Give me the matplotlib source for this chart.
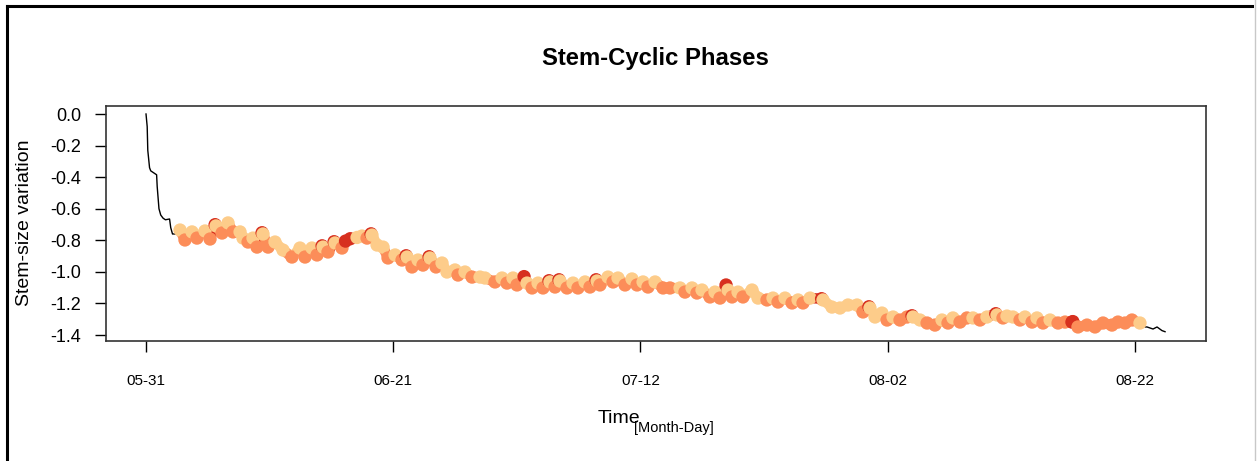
import matplotlib
matplotlib.use('Agg')
import matplotlib.pyplot as plt
from matplotlib.lines import Line2D
from matplotlib.collections import LineCollection

plt.rcParams['font.family'] = ['Liberation Sans', 'DejaVu Sans']
plt.rcParams['axes.unicode_minus'] = False

# ---- data (time in days since 05-31, stem-size variation) ----
start_days = [0.00, 0.10, 0.15, 0.30, 0.40, 0.60, 0.90, 0.95, 1.10, 1.25,
              1.45, 1.65, 2.00, 2.10, 2.25, 2.65]
start_vals = [0.000, -0.080, -0.230, -0.340, -0.360, -0.370, -0.385, -0.460,
              -0.600, -0.640, -0.660, -0.670, -0.665, -0.720, -0.760, -0.760]

phase_days = [2.89, 3.31, 3.91, 4.33, 5.01, 5.44, 5.87, 5.95, 6.46, 6.97,
              7.39, 7.99, 8.24, 8.67, 9.09, 9.43, 9.86, 9.94, 10.37, 10.96,
              11.64, 12.40, 13.08, 13.51, 14.10, 14.53, 14.96, 15.04, 15.46, 15.98,
              16.06, 16.65, 16.95, 17.35, 17.93, 18.35, 18.78, 19.12, 19.20, 19.63,
              20.14, 20.56, 21.16, 21.75, 22.10, 22.18, 22.60, 23.11, 23.53, 24.05,
              24.13, 24.64, 25.15, 25.57, 26.25, 26.51, 27.10, 27.70, 28.38, 28.80,
              29.65, 30.25, 30.67, 31.18, 31.52, 32.12, 32.37, 32.80, 33.31, 33.73,
              34.24, 34.32, 34.75, 35.09, 35.17, 35.77, 36.28, 36.70, 37.30, 37.72,
              38.24, 38.32, 38.57, 39.25, 39.68, 40.10, 40.70, 41.29, 41.72, 42.23,
              42.65, 43.25, 43.93, 44.52, 45.37, 45.79, 46.39, 46.81, 47.24, 47.92,
              48.34, 48.77, 49.28, 49.45, 49.79, 50.30, 50.72, 51.49, 52.00, 52.76,
              53.27, 53.70, 54.29, 54.89, 55.40, 55.82, 56.42, 57.40, 57.52, 58.28,
              58.96, 59.64, 60.41, 60.92, 61.42, 61.51, 61.94, 62.53, 62.96, 63.47,
              64.06, 64.66, 65.08, 65.17, 65.76, 66.36, 67.03, 67.63, 68.14, 68.56,
              69.16, 69.75, 70.26, 70.86, 71.45, 72.20, 72.30, 72.81, 73.15, 73.66,
              74.26, 74.68, 75.28, 75.70, 76.21, 76.81, 77.49, 78.08, 78.67, 78.75,
              79.18, 79.95, 80.63, 81.31, 82.07, 82.58, 83.18, 83.77, 84.45]
phase_vals = [-0.735, -0.798, -0.747, -0.786, -0.741, -0.792, -0.701, -0.709, -0.754, -0.690,
              -0.747, -0.747, -0.786, -0.811, -0.786, -0.843, -0.752, -0.760, -0.843, -0.811,
              -0.862, -0.906, -0.849, -0.906, -0.849, -0.893, -0.835, -0.843, -0.874, -0.809,
              -0.817, -0.849, -0.805, -0.790, -0.782, -0.773, -0.786, -0.759, -0.767, -0.830,
              -0.843, -0.912, -0.893, -0.925, -0.898, -0.906, -0.969, -0.925, -0.957, -0.904,
              -0.912, -0.969, -0.944, -1.001, -0.988, -1.020, -1.001, -1.033, -1.033, -1.039,
              -1.064, -1.039, -1.071, -1.039, -1.083, -1.030, -1.071, -1.102, -1.071, -1.102,
              -1.056, -1.064, -1.096, -1.050, -1.058, -1.102, -1.071, -1.102, -1.064, -1.096,
              -1.050, -1.058, -1.083, -1.033, -1.064, -1.039, -1.083, -1.045, -1.083, -1.064,
              -1.096, -1.064, -1.102, -1.102, -1.102, -1.128, -1.102, -1.134, -1.115, -1.159,
              -1.128, -1.166, -1.083, -1.115, -1.159, -1.128, -1.159, -1.115, -1.166, -1.178,
              -1.166, -1.191, -1.166, -1.197, -1.178, -1.197, -1.166, -1.170, -1.178, -1.223,
              -1.229, -1.210, -1.210, -1.254, -1.221, -1.229, -1.286, -1.261, -1.305, -1.286,
              -1.305, -1.286, -1.278, -1.286, -1.305, -1.324, -1.337, -1.305, -1.324, -1.292,
              -1.318, -1.292, -1.292, -1.305, -1.286, -1.265, -1.273, -1.292, -1.280, -1.286,
              -1.305, -1.286, -1.318, -1.292, -1.324, -1.305, -1.324, -1.318, -1.318, -1.315,
              -1.349, -1.337, -1.349, -1.324, -1.337, -1.318, -1.324, -1.305, -1.324]
# E = expansion, S = shrinkage, I = stem-radius increment (one row per 10 points)
phase_codes = list(
    "ESESESIESE"
    "SEESESIESE"
    "ESESESIESI"
    "ESIIEESIEE"
    "ESESIESESI"
    "ESEEESESEE"
    "SESESIESES"
    "IESIESESES"
    "IESESESESE"
    "SESSESESES"
    "ESIESESEES"
    "ESESESEIEE"
    "EEESIEEESE"
    "SSIEESSESE"
    "SSESEIESEE"
    "SESESESSII"
    "SSSSSSSSE"
)

end_days = [84.88, 85.05, 85.56, 85.90, 86.32, 86.58]
end_vals = [-1.349, -1.349, -1.362, -1.349, -1.372, -1.379]

phase_colors = {'E': '#FDCC8A', 'S': '#FC8D59', 'I': '#D7301F'}

x_tick_days = [0, 21, 42, 63, 84]
x_tick_labels = ['05-31', '06-21', '07-12', '08-02', '08-22']
y_ticks = [0.0, -0.2, -0.4, -0.6, -0.8, -1.0, -1.2, -1.4]
y_tick_labels = ['0.0', '-0.2', '-0.4', '-0.6', '-0.8', '-1.0', '-1.2', '-1.4']

W, H = 1257, 461
fig = plt.figure(figsize=(W / 100, H / 100), dpi=100)
ax = fig.add_axes([106 / W, 1 - 340.7 / H, (1206 - 106) / W, (340.7 - 105.7) / H])

all_days = start_days + phase_days + end_days
all_vals = start_vals + phase_vals + end_vals
ax.plot(all_days, all_vals, color='black', lw=1.0, zorder=2)

cols = [phase_colors[c] for c in phase_codes]
# thick coloured links so the chain of points reads as a continuous band
segs = [[(phase_days[i - 1], phase_vals[i - 1]), (phase_days[i], phase_vals[i])]
        for i in range(1, len(phase_days))]
lc = LineCollection(segs, colors=cols[1:], linewidths=7.5, capstyle='round', zorder=3)
ax.add_collection(lc)
ax.scatter(phase_days, phase_vals, s=92, c=cols, edgecolors='none', zorder=4)

ax.set_xlim(-3.40, 90.06)
ax.set_ylim(-1.436, 0.0526)
ax.set_xticks(x_tick_days)
ax.set_xticklabels(x_tick_labels, fontsize=11)
ax.set_yticks(y_ticks)
ax.set_yticklabels(y_tick_labels, fontsize=13)
ax.tick_params(axis='x', length=8, width=1, pad=16, direction='out')
ax.tick_params(axis='y', length=8, width=1, pad=10, direction='out')
for sp in ax.spines.values():
    sp.set_linewidth(1.2)
    sp.set_color('#333333')

ax.set_ylabel('Stem-size variation', fontsize=14, labelpad=12)
fig.text(598 / W, 1 - 418 / H, 'Time', fontsize=14, ha='left', va='center')
fig.text(634 / W, 1 - 428 / H, '[Month-Day]', fontsize=10.5, ha='left', va='center')
fig.text(655 / W, 1 - 58 / H, 'Stem-Cyclic Phases', fontsize=17.2, fontweight='bold',
         ha='center', va='center')

# screenshot frame
fig.add_artist(Line2D([7 / W, 7 / W], [0, 1 - 6 / H], color='black', lw=2.2,
                      transform=fig.transFigure))
fig.add_artist(Line2D([7 / W, 1252 / W], [1 - 6 / H, 1 - 6 / H], color='black', lw=2.2,
                      transform=fig.transFigure))
fig.add_artist(Line2D([1255 / W, 1255 / W], [0, 1], color='#c8c8c8', lw=1,
                      transform=fig.transFigure))

fig.savefig('out.png', dpi=100)
